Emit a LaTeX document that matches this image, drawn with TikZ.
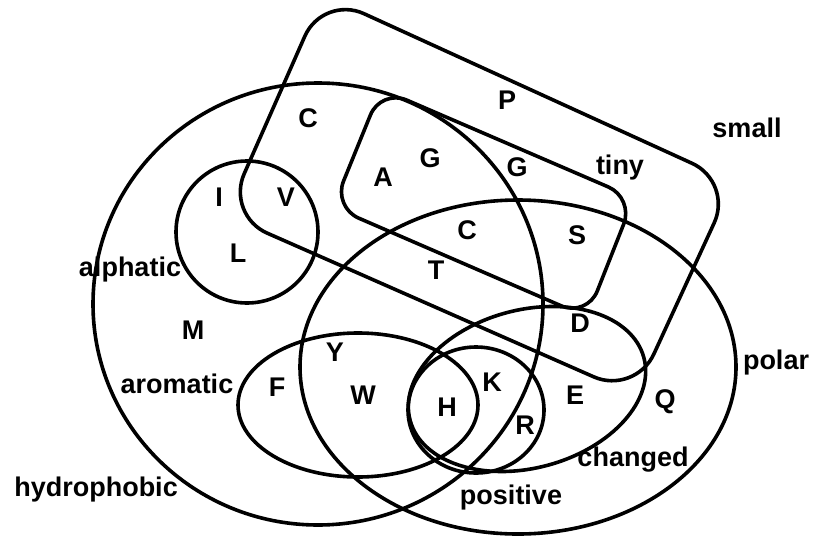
\documentclass[tikz,border=0pt]{standalone}
\usepackage{fontspec}
\setmainfont{Liberation Sans}
\begin{document}
\begin{tikzpicture}[x=1pt,y=-1pt,
  setline/.style={draw=black, line width=3.6pt},
  lab/.style={font=\fontsize{27}{30}\selectfont\bfseries, inner sep=0pt, anchor=center},
  word/.style={font=\fontsize{27}{30}\selectfont\bfseries, inner sep=0pt, anchor=base}]
\useasboundingbox (0,0) rectangle (814,536);
% hydrophobic
\draw[setline] (318,304) ellipse [x radius=225, y radius=221];
% polar
\draw[setline] (518,367) ellipse [x radius=218, y radius=167];
% aliphatic
\draw[setline] (247,232) circle [radius=71];
% aromatic
\draw[setline] (358,405) ellipse [x radius=120, y radius=72];
% positive
\draw[setline] (476,410) ellipse [x radius=68, y radius=63];
% charged
\draw[setline, rotate around={15:(527,389)}] (527,389) ellipse [x radius=121, y radius=79];
% small
\draw[setline, rounded corners=45pt] (323,-5) -- (733,182) -- (635,395) -- (226,215) -- cycle;
% tiny
\draw[setline, rounded corners=28pt] (381,89) -- (634,198) -- (587,317) -- (333,207) -- cycle;

% set labels
\node[word] (hydrophobic) at (96,496) {hydrophobic};
\node[word] (aromatic) at (177,393) {aromatic};
\node[word] (alphatic) at (130,276) {alphatic};
\node[word] (polar) at (776,369) {polar};
\node[word] (changed) at (633,466) {changed};
\node[word] (positive) at (511,504) {positive};
\node[word] (tiny) at (620,174) {tiny};
\node[word] (small) at (747,137) {small};

% amino acids
\node[lab] (c1) at (308,118) {C};
\node[lab] (p) at (507,100) {P};
\node[lab] (a) at (383,177) {A};
\node[lab] (g1) at (430,158) {G};
\node[lab] (g2) at (517,167) {G};
\node[lab] (i) at (219,197) {I};
\node[lab] (v) at (286,197) {V};
\node[lab] (l) at (238,253) {L};
\node[lab] (c2) at (467,230) {C};
\node[lab] (s) at (577,235) {S};
\node[lab] (t) at (436,270) {T};
\node[lab] (m) at (193,330) {M};
\node[lab] (d) at (580,323) {D};
\node[lab] (y) at (335,352) {Y};
\node[lab] (f) at (277,387) {F};
\node[lab] (w) at (363,395) {W};
\node[lab] (h) at (447,407) {H};
\node[lab] (k) at (492,382) {K};
\node[lab] (r) at (525,425) {R};
\node[lab] (e) at (575,395) {E};
\node[lab] (q) at (665,402) {Q};
\end{tikzpicture}
\end{document}
